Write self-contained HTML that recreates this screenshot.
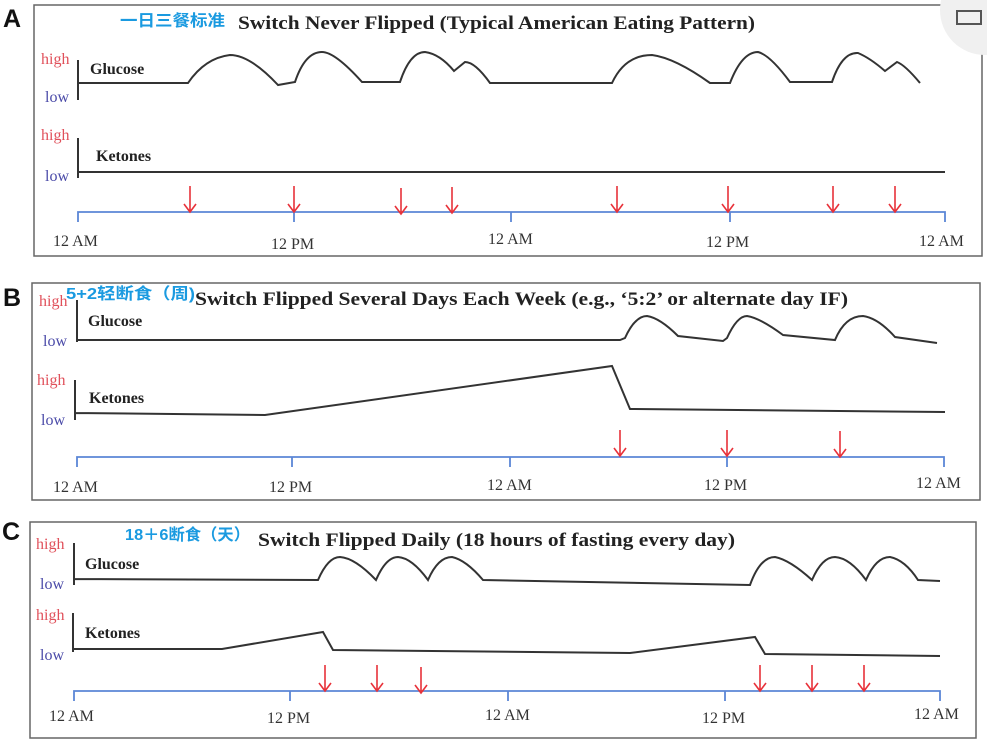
<!DOCTYPE html>
<html><head><meta charset="utf-8"><style>
html,body{margin:0;padding:0;background:#fff;}
svg{display:block;}
.t{font-family:"Liberation Serif",serif;font-weight:bold;font-size:19px;fill:#222;}
.cn{font-family:"Liberation Sans","Noto Sans CJK SC",sans-serif;font-weight:bold;font-size:16px;fill:#1a9ae0;}
.lab{font-family:"Liberation Serif",serif;font-weight:bold;font-size:16px;fill:#222;}
.hi{font-family:"Liberation Serif",serif;font-size:16px;fill:#e0505a;}
.lo{font-family:"Liberation Serif",serif;font-size:16px;fill:#4a4aa8;}
.tk{font-family:"Liberation Serif",serif;font-size:16px;fill:#333;}
.big{font-family:"Liberation Sans",sans-serif;font-weight:bold;font-size:25px;fill:#111;}
.ln{fill:none;stroke:#333;stroke-width:2;}
.ax{fill:none;stroke:#5b86d6;stroke-width:1.8;}
.ar{fill:none;stroke:#e8323a;stroke-width:1.6;}
.bx{fill:none;stroke:#666;stroke-width:1.5;}
</style></head><body>
<svg width="987" height="739" viewBox="0 0 987 739" xmlns="http://www.w3.org/2000/svg">
<defs>
<g id="arr"><path class="ar" d="M0,0V26M-6,18L0,26L6,18"/></g>
</defs>
<!-- A -->
<text class="big" x="3" y="27">A</text>
<rect class="bx" x="34" y="5" width="948" height="251"/>
<circle cx="985" cy="10" r="45" fill="#f0f0f0"/>
<rect x="957" y="11" width="24" height="13" fill="none" stroke="#555" stroke-width="2"/>
<text class="cn" x="120" y="26" textLength="105" lengthAdjust="spacingAndGlyphs">一日三餐标准</text>
<text class="t" x="238" y="29" textLength="517" lengthAdjust="spacingAndGlyphs">Switch Never Flipped (Typical American Eating Pattern)</text>
<text class="hi" x="41" y="64">high</text><text class="lo" x="45" y="102">low</text>
<path class="ln" d="M78,60V100"/>
<text class="lab" x="90" y="74">Glucose</text>
<path class="ln" d="M78,83H188Q205,58 230,55Q250,55 278,85L295,82Q305,52 322,52Q335,52 362,82H400Q410,52 425,52Q440,54 454,71L465,62Q475,62 490,83H612Q625,55 652,55Q675,58 710,83H730Q742,52 758,52Q770,55 790,82H832Q842,52 858,53Q870,58 885,71L897,62Q905,65 920,83"/>
<text class="hi" x="41" y="140">high</text><text class="lo" x="45" y="181">low</text>
<path class="ln" d="M78,138V178M78,172H945"/>
<text class="lab" x="96" y="161">Ketones</text>
<path class="ax" d="M78,222V212H945V222M294,212V222M511,212V222M730,212V222"/>
<g><use href="#arr" x="190" y="186"/><use href="#arr" x="294" y="186"/><use href="#arr" x="401" y="188"/><use href="#arr" x="452" y="187"/><use href="#arr" x="617" y="186"/><use href="#arr" x="728" y="186"/><use href="#arr" x="833" y="186"/><use href="#arr" x="895" y="186"/></g>
<text class="tk" x="53" y="246">12 AM</text><text class="tk" x="271" y="249">12 PM</text><text class="tk" x="488" y="244">12 AM</text><text class="tk" x="706" y="247">12 PM</text><text class="tk" x="919" y="246">12 AM</text>
<!-- B -->
<text class="big" x="3" y="306">B</text>
<rect class="bx" x="32" y="283" width="948" height="217"/>
<text class="hi" x="39" y="306">high</text><text class="lo" x="43" y="346">low</text>
<text class="cn" x="66" y="299" textLength="129" lengthAdjust="spacingAndGlyphs">5+2轻断食（周)</text>
<text class="t" x="195" y="305" textLength="653" lengthAdjust="spacingAndGlyphs">Switch Flipped Several Days Each Week (e.g., ‘5:2’  or alternate day IF)</text>
<path class="ln" d="M77,300V342M77,340H620L625,338Q635,316 647,316Q660,318 678,336L723,341L727,338Q737,316 747,316Q760,318 783,335L835,340Q845,316 863,316Q878,318 895,337L937,343"/>
<text class="lab" x="88" y="326">Glucose</text>
<text class="hi" x="37" y="385">high</text><text class="lo" x="41" y="425">low</text>
<path class="ln" d="M75,380V420M75,413L265,415L612,366L630,409L945,412"/>
<text class="lab" x="89" y="403">Ketones</text>
<path class="ax" d="M77,467V457H944V467M292,457V467M510,457V467M727,457V467"/>
<g><use href="#arr" x="620" y="430"/><use href="#arr" x="727" y="430"/><use href="#arr" x="840" y="431"/></g>
<text class="tk" x="53" y="492">12 AM</text><text class="tk" x="269" y="492">12 PM</text><text class="tk" x="487" y="490">12 AM</text><text class="tk" x="704" y="490">12 PM</text><text class="tk" x="916" y="488">12 AM</text>
<!-- C -->
<text class="big" x="2" y="540">C</text>
<rect class="bx" x="30" y="522" width="946" height="216"/>
<text class="hi" x="36" y="549">high</text><text class="lo" x="40" y="589">low</text>
<text class="cn" x="125" y="540" textLength="125" lengthAdjust="spacingAndGlyphs">18＋6断食（天）</text>
<text class="t" x="258" y="546" textLength="477" lengthAdjust="spacingAndGlyphs">Switch Flipped Daily (18 hours of fasting every day)</text>
<path class="ln" d="M74,543V585M74,579L318,580Q328,557 340,557Q355,558 376,580Q386,557 398,557Q412,558 428,580Q438,557 452,557Q466,560 483,580L750,585Q760,557 775,557Q790,560 812,580Q822,557 835,557Q850,558 866,580Q876,557 890,557Q905,560 918,580L940,581"/>
<text class="lab" x="85" y="569">Glucose</text>
<text class="hi" x="36" y="620">high</text><text class="lo" x="40" y="660">low</text>
<path class="ln" d="M73,613V652M73,649L222,649L323,632L333,650L630,653L755,637L765,654L940,656"/>
<text class="lab" x="85" y="638">Ketones</text>
<path class="ax" d="M74,701V691H940V701M290,691V701M508,691V701M725,691V701"/>
<g><use href="#arr" x="325" y="665"/><use href="#arr" x="377" y="665"/><use href="#arr" x="421" y="667"/><use href="#arr" x="760" y="665"/><use href="#arr" x="812" y="665"/><use href="#arr" x="864" y="665"/></g>
<text class="tk" x="49" y="721">12 AM</text><text class="tk" x="267" y="723">12 PM</text><text class="tk" x="485" y="720">12 AM</text><text class="tk" x="702" y="723">12 PM</text><text class="tk" x="914" y="719">12 AM</text>
</svg>
</body></html>
